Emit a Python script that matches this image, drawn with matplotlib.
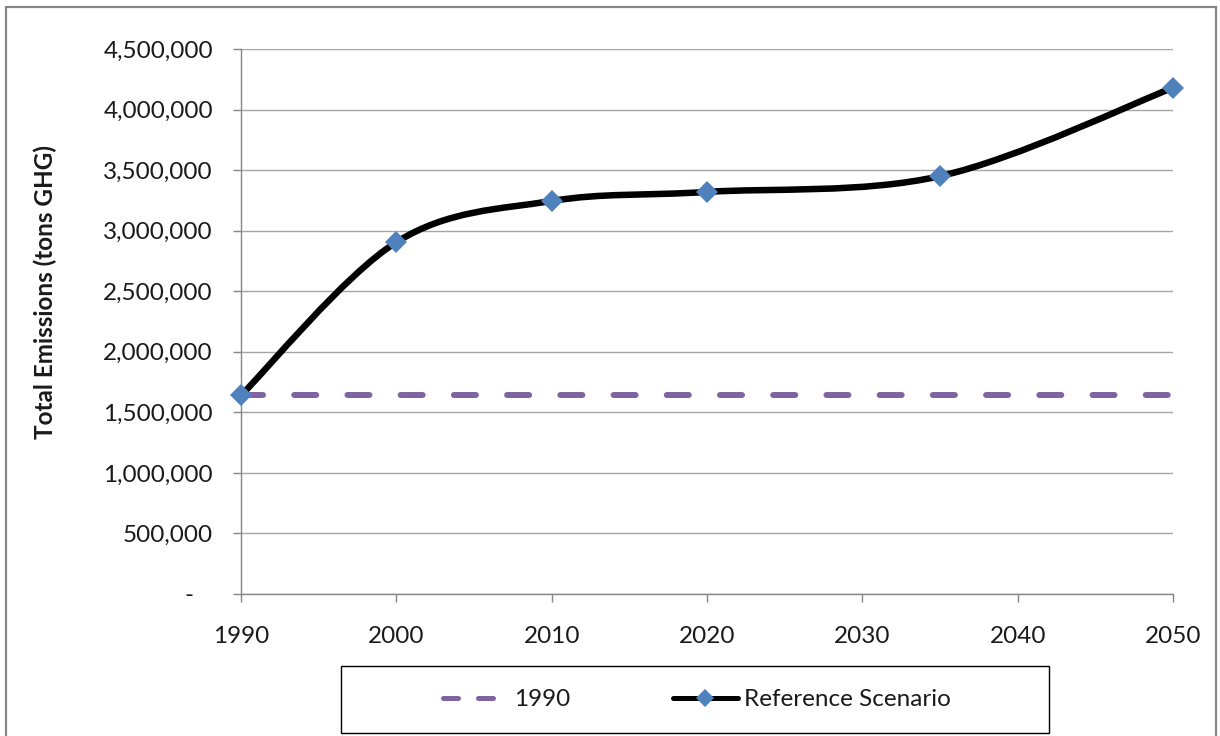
import matplotlib
matplotlib.use("Agg")
import matplotlib.pyplot as plt
from matplotlib.path import Path
from matplotlib.patches import PathPatch, Rectangle
from matplotlib.lines import Line2D
from matplotlib.legend_handler import HandlerLine2D
from matplotlib.ticker import FuncFormatter, MultipleLocator

# --- data -------------------------------------------------------------
years = [1990, 2000, 2010, 2020, 2035, 2050]
reference_scenario = [1640000, 2905000, 3245000, 3320000, 3450000, 4180000]
baseline_years = [1990, 2050]
baseline_1990 = [1640000, 1640000]

x_ticks = [1990, 2000, 2010, 2020, 2030, 2040, 2050]
y_label = "Total Emissions (tons GHG)"
legend_labels = ["1990", "Reference Scenario"]

# --- style ------------------------------------------------------------
PURPLE = "#8064A2"
BLUE = "#4F81BD"
GRID = "#A6A6A6"
SPINE = "#868686"
TEXT = "#1a1a1a"
FONT = ["Lato", "DejaVu Sans"]
plt.rcParams["font.family"] = FONT

W, H, DPI = 1220, 736, 100
fig = plt.figure(figsize=(W / DPI, H / DPI), dpi=DPI)
px = 72.0 / DPI  # points per pixel

ax = fig.add_axes([241 / W, 1 - 594 / H, (1173 - 241) / W, (594 - 49) / H])

ax.set_xlim(1990, 2050)
ax.set_ylim(0, 4500000)
ax.set_xticks(x_ticks)
ax.yaxis.set_major_locator(MultipleLocator(500000))


def fmt_y(v, _pos):
    if v == 0:
        return "-   "
    return f"{v:,.0f}"


ax.yaxis.set_major_formatter(FuncFormatter(fmt_y))
ax.grid(axis="y", color=GRID, lw=1.4 * px)
ax.set_axisbelow(True)

for side in ("top", "right"):
    ax.spines[side].set_visible(False)
for side in ("left", "bottom"):
    ax.spines[side].set_color(SPINE)
    ax.spines[side].set_linewidth(1.4 * px)

ax.tick_params(axis="both", direction="out", length=8 * px, width=1.4 * px,
               color=SPINE, labelsize=17.5, labelcolor=TEXT)
ax.tick_params(axis="x", pad=24 * px)
ax.tick_params(axis="y", pad=20 * px)

ax.set_ylabel(y_label, fontsize=17.5, fontweight="bold", color=TEXT)
ax.yaxis.set_label_coords(-0.197, 0.555)

# 1990 baseline, dashed
LW_BASE = 6 * px
base_line, = ax.plot(baseline_years, baseline_1990, color=PURPLE,
                     lw=LW_BASE, solid_capstyle="round",
                     dash_capstyle="round", clip_on=False, zorder=3)
base_line.set_dashes((3.67, 5.2))

# Reference scenario: smoothed Bezier curve through the points
verts = []
codes = []
n = len(years)
pts = list(zip(years, reference_scenario))
verts.append(pts[0])
codes.append(Path.MOVETO)
for i in range(n - 1):
    p0 = pts[i - 1] if i > 0 else pts[i]
    p1 = pts[i]
    p2 = pts[i + 1]
    p3 = pts[i + 2] if i + 2 < n else pts[i + 1]
    c1 = (p1[0] + (p2[0] - p0[0]) / 6.0, p1[1] + (p2[1] - p0[1]) / 6.0)
    c2 = (p2[0] - (p3[0] - p1[0]) / 6.0, p2[1] - (p3[1] - p1[1]) / 6.0)
    verts.extend([c1, c2, p2])
    codes.extend([Path.CURVE4] * 3)
curve = PathPatch(Path(verts, codes), fill=False, edgecolor="black",
                  lw=6.5 * px, capstyle="round", joinstyle="round",
                  transform=ax.transData, clip_on=False, zorder=4)
ax.add_patch(curve)

ax.plot(years, reference_scenario, linestyle="none", marker="D",
        markersize=11.5, color=BLUE, markeredgecolor=BLUE,
        markeredgewidth=0, clip_on=False, zorder=5)


# legend -----------------------------------------------------------------
class ShortLineHandler(HandlerLine2D):
    """Draws the legend line over only the left part of the handle box."""

    def __init__(self, frac, **kw):
        super().__init__(**kw)
        self.frac = frac

    def get_xdata(self, legend, xdescent, ydescent, width, height, fontsize):
        x0 = -xdescent
        return [x0, x0 + self.frac * width], [x0 + 0.5 * self.frac * width]


h_base = Line2D([], [], color=PURPLE, lw=5 * px, dash_capstyle="round")
h_base.set_dashes((3.0, 4.0))
h_ref = Line2D([], [], color="black", lw=5 * px, marker="D", markersize=8.7,
               markerfacecolor=BLUE, markeredgecolor=BLUE,
               markeredgewidth=0, solid_capstyle="round")

leg_box = Rectangle((341 / W, 1 - 733 / H), (1049 - 341) / W, (733 - 666) / H,
                    transform=fig.transFigure, fill=False, edgecolor="black",
                    lw=1.4 * px, zorder=1)
fig.patches.append(leg_box)

fig.legend([h_base, h_ref], legend_labels, loc="center",
           bbox_to_anchor=(697 / W, 1 - 699.5 / H), ncol=2, frameon=False,
           fontsize=17.5, handlelength=2.67, handletextpad=0.27,
           columnspacing=4.2, labelcolor=TEXT,
           handler_map={h_base: ShortLineHandler(0.77)})

# outer chart border
border = Rectangle((6 / W, -10 / H), (1216 - 6) / W, (736 - 7 + 10) / H,
                   transform=fig.transFigure, fill=False, edgecolor=SPINE,
                   lw=2.2 * px, zorder=0)
fig.patches.append(border)

fig.savefig("out.png", dpi=DPI)
